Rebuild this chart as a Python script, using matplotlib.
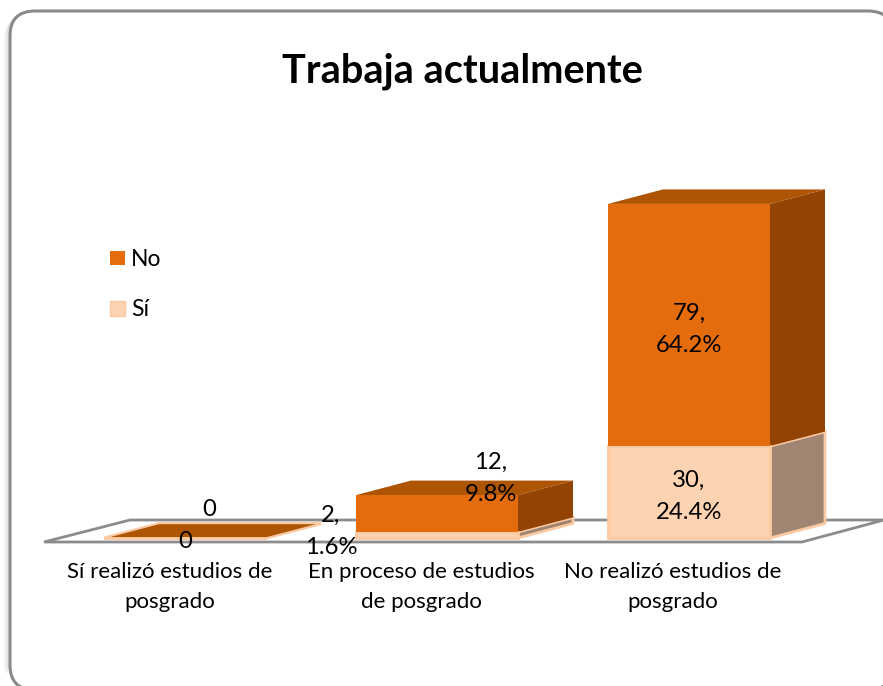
import matplotlib
matplotlib.use('Agg')
import matplotlib.pyplot as plt
from matplotlib.patches import FancyBboxPatch, Polygon, Rectangle
from matplotlib.transforms import Affine2D

categories = ['Sí realizó estudios de\nposgrado', 'En proceso de estudios\nde posgrado', 'No realizó estudios de\nposgrado']
si_values = [0, 2, 30]
no_values = [0, 12, 79]
si_labels = ['0', '2,\n1.6%', '30,\n24.4%']
no_labels = ['0', '12,\n9.8%', '79,\n64.2%']

plt.rcParams['font.family'] = ['Lato', 'DejaVu Sans']

fig = plt.figure(figsize=(8.83, 6.86), dpi=100)
ax = fig.add_axes([0, 0, 1, 1])

# scale: 252 px per category, 3.065 px per unit
ax.set_xlim(-185 / 252, 698 / 252)
ax.set_ylim(-148 / 3.065, 538 / 3.065)
ax.axis('off')

# pixels, origin top left, for the things that are not data
px = Affine2D().scale(1, -1).translate(0, 686)

bar_w = 162 / 252
dx = 55 / 252
dy = 14.5 / 3.065

# slide frame with a soft shadow on the left
for off, a in [(5, 0.03), (4, 0.04), (3, 0.05), (2, 0.07)]:
    ax.add_patch(FancyBboxPatch((35 - off, 36 + off), 833, 629, boxstyle='round,pad=25,rounding_size=25',
                                transform=px, fc='none', ec='#555555', lw=2, alpha=a, zorder=1))
ax.add_patch(FancyBboxPatch((35, 36), 833, 629, boxstyle='round,pad=25,rounding_size=25',
                            transform=px, fc='white', ec='#8a8a8a', lw=2.2, zorder=2, clip_on=False))

# floor
floor = Polygon([(44, 542), (130, 520), (884, 520), (802, 542)], closed=True, transform=px,
                fc='white', ec='#8c8c8c', lw=2, zorder=3)
ax.add_patch(floor)


def draw_block(i, bottom, height, front, side, top, edge, lw):
    left = i - bar_w / 2
    right = i + bar_w / 2
    upper = bottom + height
    ax.add_patch(Polygon([(right, bottom), (right + dx, bottom + dy), (right + dx, upper + dy), (right, upper)],
                         fc=side, ec=edge, lw=lw, zorder=4 + i))
    ax.add_patch(Polygon([(left, upper), (left + dx, upper + dy), (right + dx, upper + dy), (right, upper)],
                         fc=top, ec=edge, lw=lw, zorder=4 + i))
    ax.bar(i, height, bar_w, bottom=bottom, color=front, edgecolor=edge, lw=lw, zorder=4.5 + i)


for i in range(len(categories)):
    draw_block(i, 0, si_values[i], '#fdd3b2', '#a08672', '#fbc9a2', '#fbc9a2', 2)
    edge = '#fbc9a2' if no_values[i] == 0 else 'none'
    draw_block(i, si_values[i], no_values[i], '#e56c0d', '#934404', '#ae5504', edge, 1)

fs = 17.2
si_pos = [(185, 542), (331, 531), (689, 496)]
no_pos = [(209, 509), (491, 478), (689, 329)]
for (x, y), t in zip(si_pos, si_labels):
    ax.text(x, y, t, transform=px, ha='center', va='center', fontsize=fs, color='black', linespacing=1.65, zorder=10)
for (x, y), t in zip(no_pos, no_labels):
    ax.text(x, y, t, transform=px, ha='center', va='center', fontsize=fs, color='black', linespacing=1.65, zorder=10)

for x, t in zip([170, 421, 673], categories):
    ax.text(x, 587, t, transform=px, ha='center', va='center', fontsize=16, color='black', linespacing=1.68, zorder=10)

ax.text(462, 71, 'Trabaja actualmente', transform=px, ha='center', va='center', fontsize=28.6,
        fontweight='bold', color='black', zorder=10)

# legend
ax.add_patch(Rectangle((110, 251), 15, 14, transform=px, fc='#e56c0d', ec='none', zorder=10))
ax.add_patch(Rectangle((110, 301), 15, 15, transform=px, fc='#fdd3b2', ec='#fbc9a2', lw=1, zorder=10))
ax.text(131, 259, 'No', transform=px, ha='left', va='center', fontsize=16.5, zorder=10)
ax.text(131, 309, 'Sí', transform=px, ha='left', va='center', fontsize=16.5, zorder=10)

fig.savefig('out.png', dpi=100)
